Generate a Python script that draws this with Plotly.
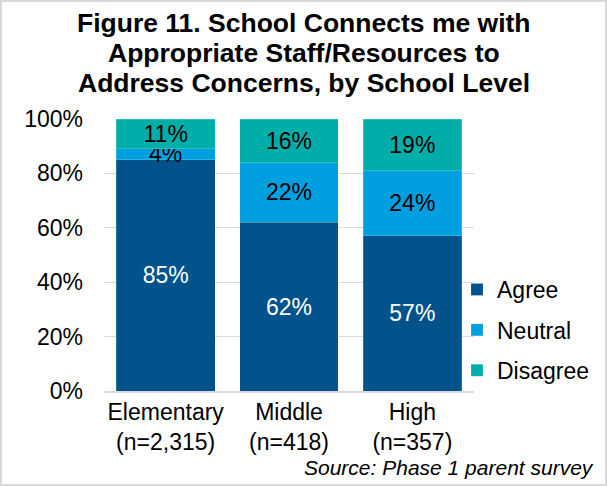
import plotly.graph_objects as go

# School levels with respondent counts
levels = ["Elementary<br>(n=2,315)", "Middle<br>(n=418)", "High<br>(n=357)"]

# Percent of parents by response
agree = [85, 62, 57]
neutral = [4, 22, 24]
disagree = [11, 16, 19]

# Axis ticks
y_ticks = [0, 20, 40, 60, 80, 100]
y_tick_labels = [f"{t}%" for t in y_ticks]

# Chart heading, one entry per line
title_lines = [
    "Figure 11. School Connects me with",
    "Appropriate Staff/Resources to",
    "Address Concerns, by School Level",
]

series = [
    ("Agree", agree, "#02538B", "white"),
    ("Neutral", neutral, "#009FDF", "black"),
    ("Disagree", disagree, "#00AEA9", "black"),
]

W, H = 607, 486
ML, MR, MT, MB = 104, 133, 119, 95
PW = W - ML - MR
PH = H - MT - MB

FONT = "Liberation Sans, Arial, sans-serif"
FS = 23

fig = go.Figure()
for name, vals, color, tcolor in series:
    fig.add_trace(go.Bar(
        name=name,
        x=levels,
        y=vals,
        marker=dict(color=color, line=dict(color="rgba(255,255,255,0.35)", width=0.5)),
        text=[f"{v}%" for v in vals],
        textposition="inside",
        insidetextanchor="middle",
        textangle=0,
        constraintext="none",
        insidetextfont=dict(family=FONT, size=FS, color=tcolor),
        legendgroup=name,
        hoverinfo="skip",
    ))


def px_x(px):
    return (px - ML) / PW


def px_y(py):
    return (H - MB - py) / PH


fig.update_layout(
    width=W,
    height=H,
    margin=dict(l=ML, r=MR, t=MT, b=MB),
    barmode="stack",
    bargap=0.2,
    paper_bgcolor="white",
    plot_bgcolor="white",
    font=dict(family=FONT, size=FS, color="black"),
    xaxis=dict(
        showgrid=False,
        showline=True,
        linecolor="#d9d9d9",
        linewidth=1.5,
        ticks="",
        tickfont=dict(size=FS),
    ),
    yaxis=dict(
        range=[0, 100],
        tickmode="array",
        tickvals=y_ticks,
        ticktext=y_tick_labels,
        showgrid=True,
        gridcolor="#d9d9d9",
        gridwidth=1,
        zeroline=False,
        showline=False,
        ticklabelstandoff=20,
        tickfont=dict(size=FS),
    ),
    legend=dict(
        x=px_x(457),
        xanchor="left",
        y=px_y(268),
        yanchor="top",
        traceorder="grouped",
        tracegroupgap=7.5,
        bgcolor="rgba(0,0,0,0)",
        font=dict(size=FS),
    ),
    showlegend=True,
)

# Heading lines with tight line spacing
for i, line in enumerate(title_lines):
    fig.add_annotation(
        text=f"<b>{line}</b>",
        xref="paper",
        yref="paper",
        x=px_x(W / 2),
        y=px_y(23 + 30 * i),
        xanchor="center",
        yanchor="middle",
        showarrow=False,
        font=dict(family=FONT, size=26.5, color="black"),
    )

fig.add_annotation(
    text="<i>Source: Phase 1 parent survey</i>",
    xref="paper",
    yref="paper",
    x=px_x(596),
    y=px_y(467),
    xanchor="right",
    yanchor="middle",
    showarrow=False,
    font=dict(family=FONT, size=21, color="black"),
)

# Light frame around the whole figure
fig.add_shape(
    type="rect",
    xref="paper",
    yref="paper",
    x0=px_x(1),
    x1=px_x(W - 1),
    y0=px_y(H - 1),
    y1=px_y(1),
    line=dict(color="#d9d9d9", width=2),
    fillcolor="rgba(0,0,0,0)",
    layer="below",
)

fig.write_html("out.html")
